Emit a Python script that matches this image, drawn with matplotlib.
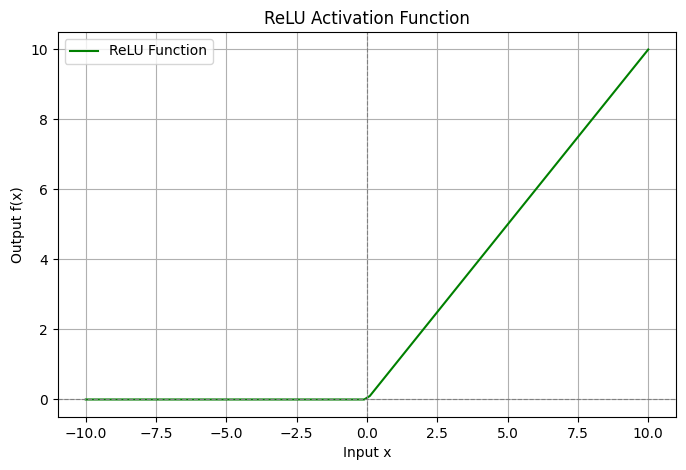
import matplotlib
matplotlib.use("Agg")
import matplotlib.pyplot as plt

x_vals = [-10.0, -0.1, 0.1, 10.0]
y_vals = [0.0, 0.0, 0.1, 10.0]

fig = plt.figure(figsize=(6.86, 4.70), dpi=100)
ax = fig.add_axes([0.084, 0.1128, 0.902, 0.8192])
ax.plot(x_vals, y_vals, color="green", linewidth=1.5, label="ReLU Function")
ax.axhline(0, color="gray", linestyle="--", linewidth=0.8)
ax.axvline(0, color="gray", linestyle="--", linewidth=0.8)
ax.set_xlim(-11, 11)
ax.set_ylim(-0.5, 10.5)
ax.set_title("ReLU Activation Function")
ax.set_xlabel("Input x")
ax.set_ylabel("Output f(x)")
ax.grid(True)
ax.legend(loc="upper left")
fig.savefig("out.png", dpi=100)
